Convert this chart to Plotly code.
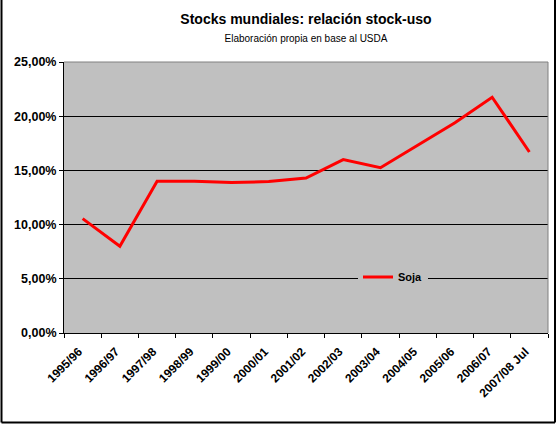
import plotly.graph_objects as go

categories = ["1995/96", "1996/97", "1997/98", "1998/99", "1999/00", "2000/01",
              "2001/02", "2002/03", "2003/04", "2004/05", "2005/06", "2006/07",
              "2007/08 Jul"]
soja = [10.55, 8.0, 14.0, 14.0, 13.88, 13.97, 14.3, 16.0, 15.25, 17.3, 19.4, 21.75, 16.7]
y_ticks = [0, 5, 10, 15, 20, 25]
y_tick_labels = ["0,00%", "5,00%", "10,00%", "15,00%", "20,00%", "25,00%"]

font = "Liberation Sans, Arial, sans-serif"

L, R, T, B = 64, 548, 62, 333
W, H = 558, 424
pw, ph = R - L, B - T

fig = go.Figure()
fig.add_trace(go.Scatter(
    x=categories, y=soja, mode="lines", name="<b>Soja</b>",
    line=dict(color="#FF0000", width=3),
))

fig.update_layout(
    width=W, height=H,
    margin=dict(l=L, r=W - R, t=T, b=H - B, autoexpand=False),
    paper_bgcolor="white",
    plot_bgcolor="#C0C0C0",
    font=dict(family=font, size=11, color="black"),
    title=dict(
        text="<b>Stocks mundiales: relación stock-uso</b><br>"
             "<span style='font-size:10px;font-weight:normal'>Elaboración propia en base al USDA</span>",
        x=0.5, xanchor="center", xref="paper", y=0.943, yanchor="top",
        font=dict(family=font, size=14, color="black"),
    ),
    showlegend=True,
    legend=dict(
        x=(358 - L) / pw, y=(B - 277) / ph, xanchor="left", yanchor="middle",
        bgcolor="#C0C0C0", borderwidth=0,
        font=dict(family=font, size=11, color="black"),
        itemwidth=30, tracegroupgap=0,
    ),
    xaxis=dict(
        type="category", tickson="boundaries", ticks="outside", ticklen=4,
        tickcolor="black", showline=True, linecolor="black", linewidth=1,
        showgrid=False, tickangle=-45, automargin=False,
        ticklabelstandoff=6, ticklabelshift=-4,
        tickfont=dict(family=font, size=12, color="black", weight="bold"),
        range=[-0.5, len(categories) - 0.5],
    ),
    yaxis=dict(
        range=[0, 25], tickvals=y_ticks, ticktext=y_tick_labels,
        ticks="outside", ticklen=4, tickcolor="black", automargin=False,
        showline=True, linecolor="black", linewidth=1,
        showgrid=True, gridcolor="black", gridwidth=1, zeroline=False,
        tickfont=dict(family=font, size=12.5, color="black", weight="bold"),
    ),
)

# plot area top/right gray edges
fig.add_shape(type="line", xref="paper", yref="paper", x0=0, x1=1, y0=1, y1=1,
              line=dict(color="#808080", width=1), layer="above")
fig.add_shape(type="line", xref="paper", yref="paper", x0=1, x1=1, y0=0, y1=1,
              line=dict(color="#808080", width=1), layer="above")
# outer chart frame (left, bottom, right)
fx0, fx1 = (1.5 - L) / pw, (555 - L) / pw
fy0, fy1 = (B - 422.5) / ph, (B - 0) / ph
for x0, y0, x1, y1 in [(fx0, fy0, fx0, fy1), (fx0, fy0, fx1, fy0), (fx1, fy0, fx1, fy1)]:
    fig.add_shape(type="line", xref="paper", yref="paper", x0=x0, y0=y0, x1=x1, y1=y1,
                  line=dict(color="black", width=2), layer="above")

fig.write_html(
    "out.html",
    config={"displayModeBar": False},
    post_script="document.body.style.margin='0';document.body.style.overflow='hidden';",
)
